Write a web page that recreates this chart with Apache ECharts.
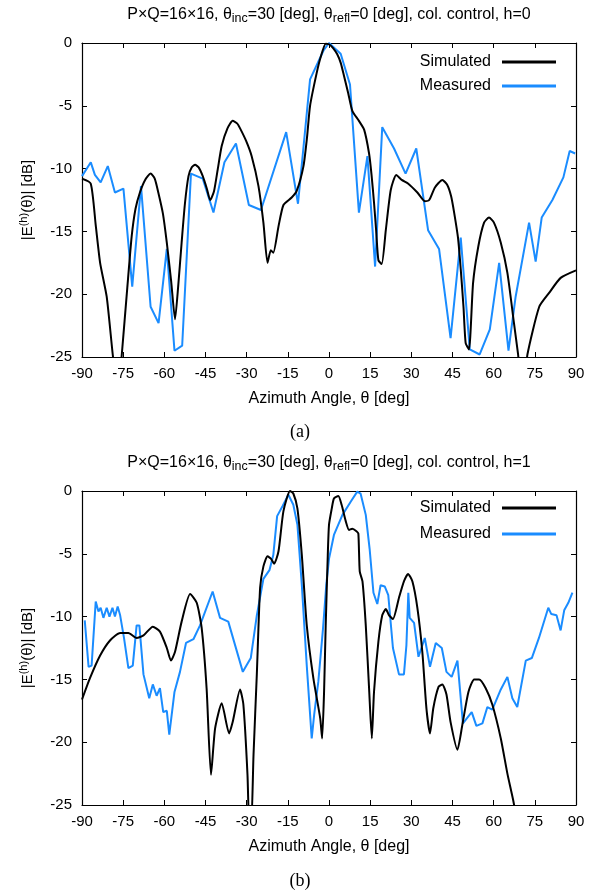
<!DOCTYPE html>
<html>
<head>
<meta charset="utf-8">
<script src="https://cdn.jsdelivr.net/npm/echarts@6/dist/echarts.min.js"></script>
<style>
  html, body { margin: 0; padding: 0; background: #fff; }
  #chart { width: 597px; height: 892px; }
</style>
</head>
<body>
<div id="chart"></div>
<script>
// Reflected field patterns, azimuth cut, [angle (deg), level (dB)]
const angleTicks = [-90, -75, -60, -45, -30, -15, 0, 15, 30, 45, 60, 75, 90];
const levelTicks = [-25, -20, -15, -10, -5, 0];

// Panel (a): h = 0
const simulatedH0 = [
  [-90,-10.8],[-86.8,-11.2],[-85,-14.5],[-83.4,-17.5],[-81,-20.2],[-78.8,-24.8],[-77.5,-27],
  [-76.5,-27],[-75.5,-24.8],[-73.5,-19.5],[-71.9,-15.4],[-70.5,-13.2],[-68.9,-11.9],[-67,-10.9],
  [-65,-10.4],[-63.5,-10.8],[-62.2,-11.9],[-60.5,-13.6],[-59.1,-15.9],[-57.5,-19],[-56.1,-22.0],
  [-55,-19.5],[-53.7,-15.9],[-52.5,-12.8],[-51.2,-10.6],[-50,-9.9],[-48.8,-9.7],[-47.5,-9.9],
  [-46,-10.6],[-44.5,-11.6],[-43.3,-12.5],[-41.9,-11.8],[-40.5,-10],[-39.1,-8.2],[-37,-6.8],
  [-35.1,-6.2],[-33.5,-6.4],[-32.4,-6.8],[-30.2,-7.8],[-28.2,-9.0],[-25.7,-11.4],[-23.9,-14.3],
  [-22.4,-17.5],[-21.2,-16.5],[-20.3,-16.7],[-18.4,-14.6],[-16.6,-12.9],[-13.6,-12.3],
  [-11.8,-11.8],[-9.3,-9.8],[-8,-7.5],[-6.9,-5.0],[-4.5,-2.4],[-3,-1.1],[-1.2,-0.05],[0,-0.1],
  [1.5,-0.4],[3.0,-0.9],[4.3,-1.6],[5.5,-2.65],[7,-4],[8.5,-5.4],[10.9,-6.2],[12.8,-6.9],
  [14.6,-8.8],[15.5,-10.5],[16.4,-12.7],[17.2,-15],[18.0,-17.3],[19.2,-17.6],[20.7,-14.9],
  [22.5,-11.7],[24.5,-10.5],[26.5,-10.9],[28.9,-11.2],[32.2,-11.9],[35,-12.6],[36.5,-12.5],
  [38.6,-11.5],[41.3,-10.9],[43.1,-11.3],[44.5,-12.2],[45.6,-13.5],[47,-15.5],[48,-18],[49,-21],
  [49.8,-23.9],[51,-24.4],[52.5,-19.1],[54.4,-16.2],[56.5,-14.3],[58.3,-13.9],[60.1,-14.3],
  [62.6,-15.9],[65,-18.3],[67.4,-22.3],[68.9,-24.8],[70,-27],[71.3,-27],[72.3,-24.8],
  [76.6,-21.0],[80.2,-19.9],[84.4,-18.7],[90,-18.1]
];
const measuredH0 = [
  [-90,-10.6],[-86.8,-9.5],[-85.3,-10.5],[-83.2,-11.1],[-80.6,-9.8],[-78,-11.9],[-74.9,-11.6],
  [-71.7,-19.4],[-68.5,-11.4],[-65,-21.0],[-62.1,-22.3],[-59.1,-16.4],[-56.3,-24.5],[-53.5,-24.1],
  [-50.3,-10.4],[-46,-10.8],[-42.1,-13.5],[-38.1,-9.5],[-33.9,-8.0],[-29.2,-12.9],[-24.8,-13.3],
  [-15.6,-7.1],[-11.3,-12.8],[-6.9,-2.9],[-2,-0.6],[0,0],[4.25,-0.85],[7.65,-3.3],[10.9,-13.5],
  [14,-9.0],[16.8,-17.8],[19.4,-6.7],[23.7,-8.4],[27.9,-10.4],[31.8,-8.4],[36.1,-14.9],
  [40.1,-16.4],[44.3,-23.5],[48,-15.5],[51.3,-24.4],[54.9,-24.8],[58.6,-22.8],[62,-17.5],
  [65.4,-24.5],[68,-20.2],[72.9,-14.3],[75.3,-17.4],[77.5,-13.9],[81.4,-12.5],[85.4,-10.7],
  [87.7,-8.6],[89.7,-8.8]
];

// Panel (b): h = 1
const simulatedH1 = [
  [-90,-16.6],[-87.1,-14.9],[-83.4,-13.1],[-79.8,-11.9],[-76.1,-11.3],[-73.1,-11.3],[-70.1,-11.7],
  [-67.6,-11.5],[-64.2,-10.8],[-61.6,-11.2],[-59.1,-12.5],[-57.6,-13.5],[-56.1,-12.8],[-53.7,-10.4],
  [-50.6,-8.2],[-48.2,-8.9],[-46.4,-10.9],[-44.6,-15.7],[-43,-22.6],[-41.5,-18.9],[-39.1,-16.9],
  [-36.4,-19.3],[-35.1,-18.4],[-32.4,-15.8],[-31.2,-17.0],[-29.7,-22.6],[-29,-27],[-28.4,-27],
  [-27.5,-21],[-26.3,-14.6],[-25.1,-7.7],[-23.9,-6.0],[-22.4,-5.2],[-21.1,-5.4],[-20,-5.8],
  [-18.4,-4.8],[-16.6,-1.6],[-14.2,0],[-13,-0.2],[-11.5,-1.4],[-9.9,-5.1],[-8.1,-10.7],
  [-5.7,-14.9],[-3.2,-18.1],[-2.5,-19.7],[-1.8,-16],[-1.2,-10.7],[-0.5,-5.5],[0,-2.7],[1,-1.4],
  [1.8,-0.6],[3.4,-0.4],[4.6,-1.1],[6.1,-2.4],[7.3,-3.1],[8.5,-3.0],[10,-3.2],[10.7,-3.4],
  [11.2,-6.4],[12.2,-7.2],[13.4,-10.7],[14.6,-15.7],[15.6,-19.7],[16.4,-16.0],[18,-12],
  [19.4,-9.9],[20.7,-9.4],[21.9,-9.9],[23.3,-10.2],[25.5,-8.5],[27.3,-7.2],[28.8,-6.6],
  [30.4,-7.2],[32.2,-9.3],[34,-12.8],[35.5,-17.3],[36.8,-19.3],[38,-17.3],[39.9,-15.6],
  [41.3,-15.4],[42.8,-16.2],[44.3,-18.4],[46.8,-20.6],[48.6,-18.6],[50.8,-16.0],[52.9,-15.0],
  [54.7,-15.0],[57.1,-15.7],[59.5,-17.0],[62.6,-19.7],[65,-22.5],[67.1,-24.6],[70,-28]
];
const measuredH1 = [
  [-89,-10.3],[-87.6,-14.0],[-86.5,-13.9],[-85,-8.8],[-84,-9.6],[-83.2,-9.3],[-82.2,-10.1],
  [-81,-9.3],[-80,-10.0],[-78.9,-9.3],[-78,-10.0],[-77,-9.2],[-76.1,-9.9],[-74.7,-11.7],
  [-73.1,-14.1],[-71.5,-13.9],[-70.1,-10.7],[-69.1,-10.7],[-67.6,-14.6],[-65.5,-16.5],
  [-64.2,-15.4],[-62.8,-16.3],[-61.6,-15.7],[-60.4,-17.6],[-59.1,-17.5],[-58.2,-19.4],
  [-56.3,-16.0],[-54.3,-14.4],[-52.1,-12.1],[-49.4,-11.8],[-47,-10.7],[-42.4,-8.0],[-39.7,-10.1],
  [-36.7,-10.4],[-31.4,-14.4],[-28.5,-13.3],[-26.3,-9.9],[-23.9,-7.0],[-21.7,-6.3],[-20.3,-5.1],
  [-18.9,-2.0],[-16.9,-1.2],[-14.8,-0.3],[-13,-1.1],[-11.5,-2.7],[-9.9,-7.5],[-8.1,-13.9],
  [-6.3,-19.7],[-5.4,-17.8],[-3.9,-15.2],[-2.2,-11],[-1,-7.5],[0,-5.4],[1.8,-3.5],[4.9,-1.9],
  [7.9,-0.85],[10.3,-0.05],[11.5,-0.2],[13.4,-1.9],[14.8,-4.6],[16.2,-8.1],[17.6,-9.0],
  [18.8,-7.5],[20.3,-7.6],[21.6,-8.3],[23.3,-12.5],[25.5,-14.6],[27.3,-14.6],[28.2,-12.3],
  [28.9,-8.1],[29.4,-10.1],[31,-10.5],[32.6,-13.2],[34.9,-11.7],[36.8,-14.0],[38.9,-12.1],
  [41.1,-12.5],[42.8,-14.4],[44.7,-14.8],[46.8,-13.5],[48.8,-18.5],[52,-17.6],[53.7,-18.7],
  [55.9,-18.5],[57.7,-17.2],[59.5,-17.4],[62.6,-15.8],[65,-14.8],[66.8,-16.5],[68.6,-17.2],
  [71.7,-13.5],[73.9,-13.3],[76.5,-11.7],[79.9,-9.3],[81,-9.8],[82.9,-9.9],[84.4,-11.1],
  [85.7,-9.5],[87.2,-8.9],[88.7,-8.1]
];

const panelTitles = [
  '{n|P×Q=16×16, θ}{s|inc}{n|=30 [deg], θ}{s|refl}{n|=0 [deg], col. control, h=0}',
  '{n|P×Q=16×16, θ}{s|inc}{n|=30 [deg], θ}{s|refl}{n|=0 [deg], col. control, h=1}'
];
const panelTags = ['(a)', '(b)'];
const seriesNames = ['Simulated', 'Measured'];
const xAxisName = 'Azimuth Angle, θ [deg]';
const yAxisName = '{n||E}{s|(h)}{n|(θ)| [dB]}';

const SANS = 'Liberation Sans, Arial, Helvetica, sans-serif';
const SERIF = 'Liberation Serif, Times New Roman, serif';
const BLACK = '#000000';
const BLUE = '#1a8cff';

const grids = [
  { left: 82, top: 43, width: 494, height: 314 },
  { left: 82, top: 491, width: 494, height: 314 }
];

const tickStyle = { show: true, inside: true, length: 5, lineStyle: { color: BLACK, width: 1 } };
const lineAxis = { show: true, onZero: false, lineStyle: { color: BLACK, width: 1.2 } };

const xAxes = [];
const yAxes = [];
grids.forEach((g, i) => {
  xAxes.push({
    type: 'value', gridIndex: i, position: 'bottom',
    min: angleTicks[0], max: angleTicks[angleTicks.length - 1], interval: 15,
    axisLine: lineAxis, axisTick: tickStyle, splitLine: { show: false },
    axisLabel: { color: BLACK, fontSize: 15, fontFamily: SANS, margin: 9 },
    name: xAxisName, nameLocation: 'middle', nameGap: 34,
    nameTextStyle: { color: BLACK, fontSize: 16, fontFamily: SANS }
  });
  xAxes.push({
    type: 'value', gridIndex: i, position: 'top',
    min: angleTicks[0], max: angleTicks[angleTicks.length - 1], interval: 15,
    axisLine: lineAxis, axisTick: tickStyle, splitLine: { show: false },
    axisLabel: { show: false }
  });
  yAxes.push({
    type: 'value', gridIndex: i, position: 'left',
    min: levelTicks[0], max: levelTicks[levelTicks.length - 1], interval: 5,
    axisLine: lineAxis, axisTick: tickStyle, splitLine: { show: false },
    axisLabel: { color: BLACK, fontSize: 15, fontFamily: SANS, margin: 10 },
    name: yAxisName, nameLocation: 'middle', nameGap: 44, nameRotate: 90,
    nameTextStyle: {
      color: BLACK, fontFamily: SANS,
      rich: {
        n: { fontSize: 15, fontFamily: SANS, color: BLACK, lineHeight: 20 },
        s: { fontSize: 11, fontFamily: SANS, color: BLACK, lineHeight: 11, verticalAlign: 'top' }
      }
    }
  });
  yAxes.push({
    type: 'value', gridIndex: i, position: 'right',
    min: levelTicks[0], max: levelTicks[levelTicks.length - 1], interval: 5,
    axisLine: lineAxis, axisTick: tickStyle, splitLine: { show: false },
    axisLabel: { show: false }
  });
});

function curve(name, data, color, grid, smooth) {
  return {
    name, type: 'line', data,
    xAxisIndex: grid * 2, yAxisIndex: grid * 2,
    showSymbol: false, symbol: 'none', smooth: smooth, clip: true,
    lineStyle: { color, width: 2 }, itemStyle: { color },
    z: name === seriesNames[0] ? 3 : 2
  };
}

const series = [
  curve(seriesNames[0], simulatedH0, BLACK, 0, 0.2),
  curve(seriesNames[1], measuredH0, BLUE, 0, false),
  curve(seriesNames[0], simulatedH1, BLACK, 1, 0.2),
  curve(seriesNames[1], measuredH1, BLUE, 1, false)
];

function legendFor(top, gap) {
  return {
    top, right: 41, orient: 'vertical', align: 'right', padding: 0,
    icon: 'rect', itemWidth: 54, itemHeight: 3, itemGap: gap,
    selectedMode: false, data: seriesNames,
    textStyle: { color: BLACK, fontSize: 16, fontFamily: SANS, padding: [0, 6, 0, 0] }
  };
}

const titleRich = {
  n: { fontSize: 16, fontFamily: SANS, fill: BLACK, color: BLACK, lineHeight: 20 },
  s: { fontSize: 12.5, fontFamily: SANS, fill: BLACK, color: BLACK, lineHeight: 12, verticalAlign: 'bottom' }
};

const graphics = [
  { type: 'text', x: 329, y: 15, style: { text: panelTitles[0], rich: titleRich, align: 'center', verticalAlign: 'middle' } },
  { type: 'text', x: 329, y: 463, style: { text: panelTitles[1], rich: titleRich, align: 'center', verticalAlign: 'middle' } },
  { type: 'text', x: 300, y: 432, style: { text: panelTags[0], font: '18px ' + SERIF, fill: BLACK, align: 'center', verticalAlign: 'middle' } },
  { type: 'text', x: 300, y: 881, style: { text: panelTags[1], font: '18px ' + SERIF, fill: BLACK, align: 'center', verticalAlign: 'middle' } }
];

const chart = echarts.init(document.getElementById('chart'), null, { renderer: 'canvas' });
chart.setOption({
  backgroundColor: '#ffffff',
  animation: false,
  grid: grids,
  xAxis: xAxes,
  yAxis: yAxes,
  legend: [legendFor(54, 8), legendFor(500, 10)],
  graphic: graphics,
  series
});
</script>
</body>
</html>
